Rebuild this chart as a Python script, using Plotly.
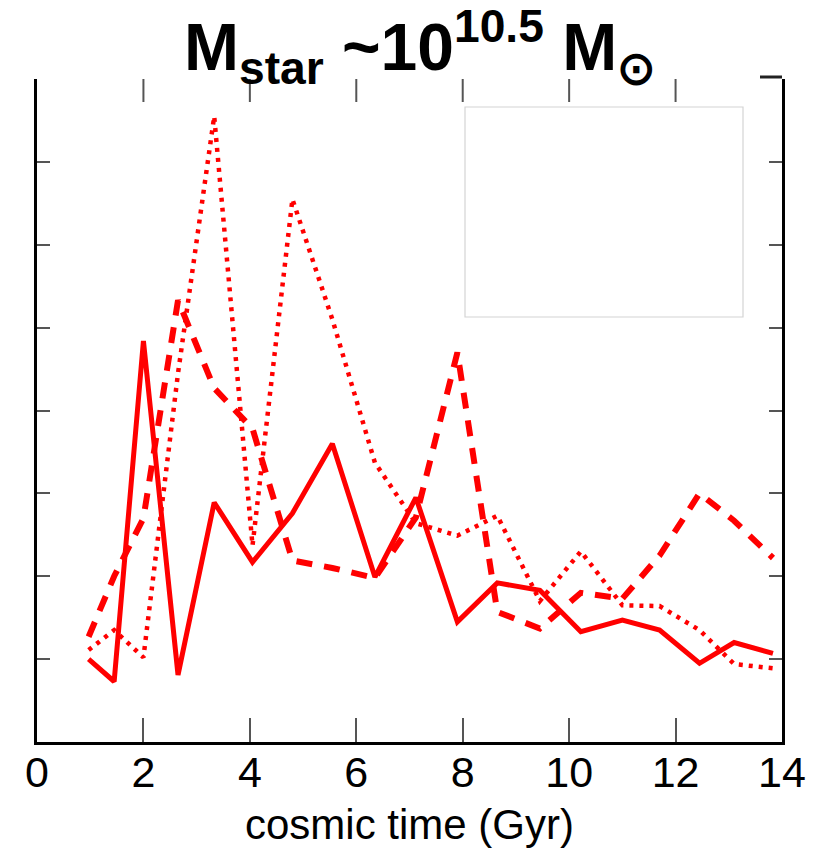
import plotly.graph_objects as go

# cosmic time (Gyr) of each sample
time_gyr = [0.97, 1.45, 2.0, 2.65, 3.33, 4.05, 4.8, 5.55, 6.35, 7.12, 7.9,
            8.65, 9.45, 10.22, 11.0, 11.7, 12.45, 13.1, 13.83]

# three series (arbitrary units, y axis unlabeled)
solid_vals = [1.0, 0.73, 4.84, 0.81, 2.89, 2.17, 2.76, 3.6, 1.99, 2.95, 1.45,
              1.92, 1.83, 1.33, 1.47, 1.35, 0.95, 1.2, 1.07]
dashed_vals = [1.27, 2.0, 2.7, 5.33, 4.27, 3.78, 2.19, 2.1, 1.98, 2.71, 4.7,
               1.57, 1.37, 1.8, 1.73, 2.25, 3.0, 2.67, 2.22]
dotted_vals = [1.11, 1.35, 1.02, 4.45, 7.55, 2.37, 6.55, 5.1, 3.37, 2.64, 2.49,
               2.73, 1.7, 2.3, 1.65, 1.64, 1.35, 0.94, 0.89]

x_ticks = [0, 2, 4, 6, 8, 10, 12, 14]
y_ticks = [1, 2, 3, 4, 5, 6, 7]

RED = "#ff0000"
fig = go.Figure()
fig.add_trace(go.Scatter(x=time_gyr, y=dotted_vals, mode="lines",
                         line=dict(color=RED, width=4.5, dash="4px,6px"),
                         hoverinfo="skip"))
fig.add_trace(go.Scatter(x=time_gyr, y=dashed_vals, mode="lines",
                         line=dict(color=RED, width=6, dash="16px,12px"),
                         hoverinfo="skip"))
fig.add_trace(go.Scatter(x=time_gyr, y=solid_vals, mode="lines",
                         line=dict(color=RED, width=5),
                         hoverinfo="skip"))

L, R, T, B = 37, 45, 79, 118
W, H = 827, 860
pw, ph = W - L - R, H - T - B

fig.update_layout(
    width=W, height=H,
    margin=dict(l=L, r=R, t=T, b=B),
    paper_bgcolor="white", plot_bgcolor="white",
    showlegend=False,
    font=dict(family="Liberation Sans, Arial, sans-serif", color="black"),
    title=dict(
        text="<b>M<sub>star</sub> ~10<sup>10.5</sup> M<sub>⊙</sub></b>",
        font=dict(family="Liberation Sans Narrow, Liberation Sans, Arial", size=66, color="black"),
        x=0.508, xanchor="center", xref="container",
        y=1 - 47 / H, yanchor="middle", yref="container",
    ),
    xaxis=dict(
        range=[0, 14], tickvals=x_ticks, ticktext=[str(v) for v in x_ticks],
        ticks="inside", ticklen=24, tickwidth=2, tickcolor="#555",
        showline=True, linewidth=3, linecolor="black",
        showgrid=False, zeroline=False,
        tickfont=dict(size=43, color="black"),
        ticklabelstandoff=-10,
        title=dict(text="cosmic time (Gyr)", font=dict(size=42, color="black"), standoff=16),
    ),
    yaxis=dict(
        range=[0, 8], tickvals=y_ticks, showticklabels=False,
        ticks="inside", ticklen=13, tickwidth=2, tickcolor="#555",
        showline=True, linewidth=3, linecolor="black", mirror="ticks",
        showgrid=False, zeroline=False,
    ),
)

# top tick marks (top frame line itself is hidden in the reference)
for v in x_ticks[1:-1]:
    fig.add_shape(type="line", xref="x", yref="paper",
                  x0=v, x1=v, y0=1, y1=1 - 23 / ph,
                  line=dict(color="#555", width=2))
# empty legend box
lx0, lx1, ly0, ly1 = 465, 743, 107, 317
fig.add_shape(type="rect", xref="paper", yref="paper",
              x0=(lx0 - L) / pw, x1=(lx1 - L) / pw,
              y0=1 - (ly1 - T) / ph, y1=1 - (ly0 - T) / ph,
              line=dict(color="#d4d4d4", width=1.2), fillcolor="white", layer="below")
# remnant of top frame at the upper right corner
fig.add_shape(type="line", xref="paper", yref="paper",
              x0=(760 - L) / pw, x1=1.0, y0=1 + 2 / ph, y1=1 + 2 / ph,
              line=dict(color="#222", width=3))

fig.write_html("out.html")
